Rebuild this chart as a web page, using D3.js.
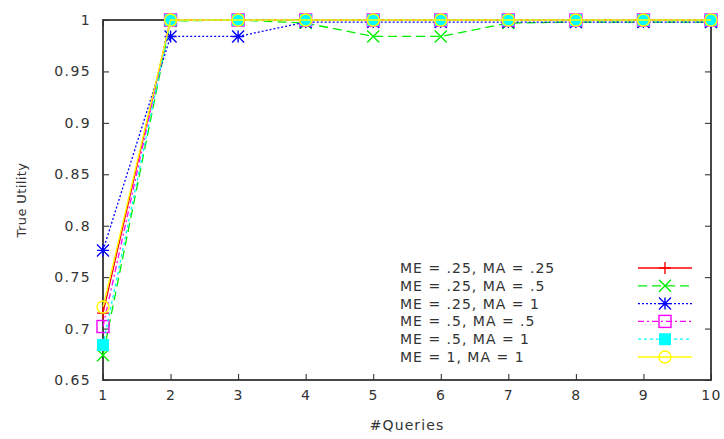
<!DOCTYPE html>
<html>
<head>
<meta charset="utf-8">
<script src="https://cdn.jsdelivr.net/npm/d3@7"></script>
<style>
  body { margin: 0; background: #fff; }
  text { font-family: "DejaVu Sans", sans-serif; fill: #333; }
</style>
</head>
<body>
<div id="chart"></div>
<script>
// data
const queries = [1, 2, 3, 4, 5, 6, 7, 8, 9, 10];
const me25ma25 = [0.715, 1, 1, 1, 1, 1, 1, 1, 1, 1];
const me25ma5 = [0.674, 0.999, 1, 0.997, 0.984, 0.984, 0.997, 0.998, 0.998, 0.998];
const me25ma1 = [0.776, 0.984, 0.984, 0.998, 0.998, 0.998, 0.998, 0.998, 0.998, 0.998];
const me5ma5 = [0.702, 1, 1, 1, 1, 1, 1, 1, 1, 1];
const me5ma1 = [0.684, 1, 1, 1, 1, 1, 1, 1, 1, 1];
const me1ma1 = [0.721, 1, 1, 1, 1, 1, 1, 1, 1, 1];
const yTicks = [0.65, 0.7, 0.75, 0.8, 0.85, 0.9, 0.95, 1];

const series = [
  {name: "ME = .25, MA = .25", values: me25ma25, color: "#ff0000", dash: null, marker: "plus"},
  {name: "ME = .25, MA = .5", values: me25ma5, color: "#00ee00", dash: "9,5", marker: "cross"},
  {name: "ME = .25, MA = 1", values: me25ma1, color: "#0000ff", dash: "2,2", marker: "star"},
  {name: "ME = .5, MA = .5", values: me5ma5, color: "#ff00ff", dash: "6,3,2,3", marker: "box"},
  {name: "ME = .5, MA = 1", values: me5ma1, color: "#00ffff", dash: "3,3", marker: "fbox"},
  {name: "ME = 1, MA = 1", values: me1ma1, color: "#ffff00", dash: null, marker: "circle"}
];

const W = 724, H = 439;
const margin = {top: 20, right: 13, bottom: 59, left: 103};
const width = W - margin.left - margin.right,
      height = H - margin.top - margin.bottom;

const svg = d3.select("#chart").append("svg")
    .attr("width", W).attr("height", H)
  .append("g")
    .attr("transform", `translate(${margin.left},${margin.top})`);

const x = d3.scaleLinear().domain([1, 10]).range([0, width]);
const y = d3.scaleLinear().domain([0.65, 1]).range([height, 0]);

// ticks (gnuplot style, inward and mirrored)
const tl = 6;
svg.append("g")
    .attr("transform", `translate(0,${height})`)
    .call(d3.axisBottom(x).tickValues(queries).tickSize(-tl).tickPadding(10).tickFormat(d3.format("d")))
    .call(g => g.select(".domain").remove());
svg.append("g")
    .call(d3.axisTop(x).tickValues(queries).tickSize(-tl).tickFormat(""))
    .call(g => g.select(".domain").remove());
svg.append("g")
    .call(d3.axisLeft(y).tickValues(yTicks).tickSize(-tl).tickPadding(12).tickFormat(d => d === 1 ? "1" : d3.format(".2~f")(d)))
    .call(g => g.select(".domain").remove());
svg.append("g")
    .attr("transform", `translate(${width},0)`)
    .call(d3.axisRight(y).tickValues(yTicks).tickSize(-tl).tickFormat(""))
    .call(g => g.select(".domain").remove());

svg.selectAll(".tick line").attr("stroke", "#222").attr("stroke-width", 1);
svg.selectAll(".tick text")
    .style("font-size", "14px")
    .style("letter-spacing", "1.4px")
    .attr("fill", "#333");

// frame
svg.append("rect")
    .attr("width", width).attr("height", height)
    .attr("fill", "none").attr("stroke", "#333").attr("stroke-width", 1.8);

// axis titles
svg.append("text")
    .attr("transform", `translate(${-77},${height / 2}) rotate(-90)`)
    .attr("text-anchor", "middle")
    .style("font-size", "13px")
    .style("letter-spacing", "0.4px")
    .text("True Utility");
svg.append("text")
    .attr("x", width / 2).attr("y", height + 50)
    .attr("text-anchor", "middle")
    .style("font-size", "14px")
    .style("letter-spacing", "1.1px")
    .text("#Queries");

// marker shapes
function marker(g, type, color, cx, cy) {
  const s = 6;
  if (type === "plus") {
    g.append("path").attr("d", `M${cx - s},${cy}H${cx + s}M${cx},${cy - s}V${cy + s}`)
      .attr("stroke", color).attr("stroke-width", 1.4).attr("fill", "none");
  } else if (type === "cross") {
    g.append("path").attr("d", `M${cx - s},${cy - s}L${cx + s},${cy + s}M${cx - s},${cy + s}L${cx + s},${cy - s}`)
      .attr("stroke", color).attr("stroke-width", 1.4).attr("fill", "none");
  } else if (type === "star") {
    g.append("path").attr("d", `M${cx - s},${cy}H${cx + s}M${cx},${cy - s}V${cy + s}M${cx - s},${cy - s}L${cx + s},${cy + s}M${cx - s},${cy + s}L${cx + s},${cy - s}`)
      .attr("stroke", color).attr("stroke-width", 1.4).attr("fill", "none");
  } else if (type === "box") {
    g.append("rect").attr("x", cx - s).attr("y", cy - s).attr("width", 2 * s).attr("height", 2 * s)
      .attr("stroke", color).attr("stroke-width", 1.4).attr("fill", "none");
  } else if (type === "fbox") {
    g.append("rect").attr("x", cx - s).attr("y", cy - s).attr("width", 2 * s).attr("height", 2 * s)
      .attr("fill", color);
  } else if (type === "circle") {
    g.append("circle").attr("cx", cx).attr("cy", cy).attr("r", s)
      .attr("stroke", color).attr("stroke-width", 1.4).attr("fill", "none");
  }
}

const line = d3.line().x((d, i) => x(queries[i])).y(d => y(d));

series.forEach(s => {
  const g = svg.append("g");
  g.append("path")
      .datum(s.values)
      .attr("d", line)
      .attr("fill", "none")
      .attr("stroke", s.color)
      .attr("stroke-width", 1.3)
      .attr("stroke-dasharray", s.dash);
  s.values.forEach((v, i) => marker(g, s.marker, s.color, x(queries[i]), y(v)));
});

// legend
const legend = svg.append("g").attr("transform", `translate(${400 - margin.left},${268 - margin.top})`);
series.forEach((s, i) => {
  const ly = i * 17.8;
  legend.append("text")
      .attr("x", 0).attr("y", ly).attr("dy", "0.35em")
      .style("font-size", "14px")
      .style("letter-spacing", "1px")
      .text(s.name);
  legend.append("line")
      .attr("x1", 238).attr("x2", 292).attr("y1", ly).attr("y2", ly)
      .attr("stroke", s.color).attr("stroke-width", 1.3)
      .attr("stroke-dasharray", s.dash);
  marker(legend, s.marker, s.color, 265, ly);
});
</script>
</body>
</html>
